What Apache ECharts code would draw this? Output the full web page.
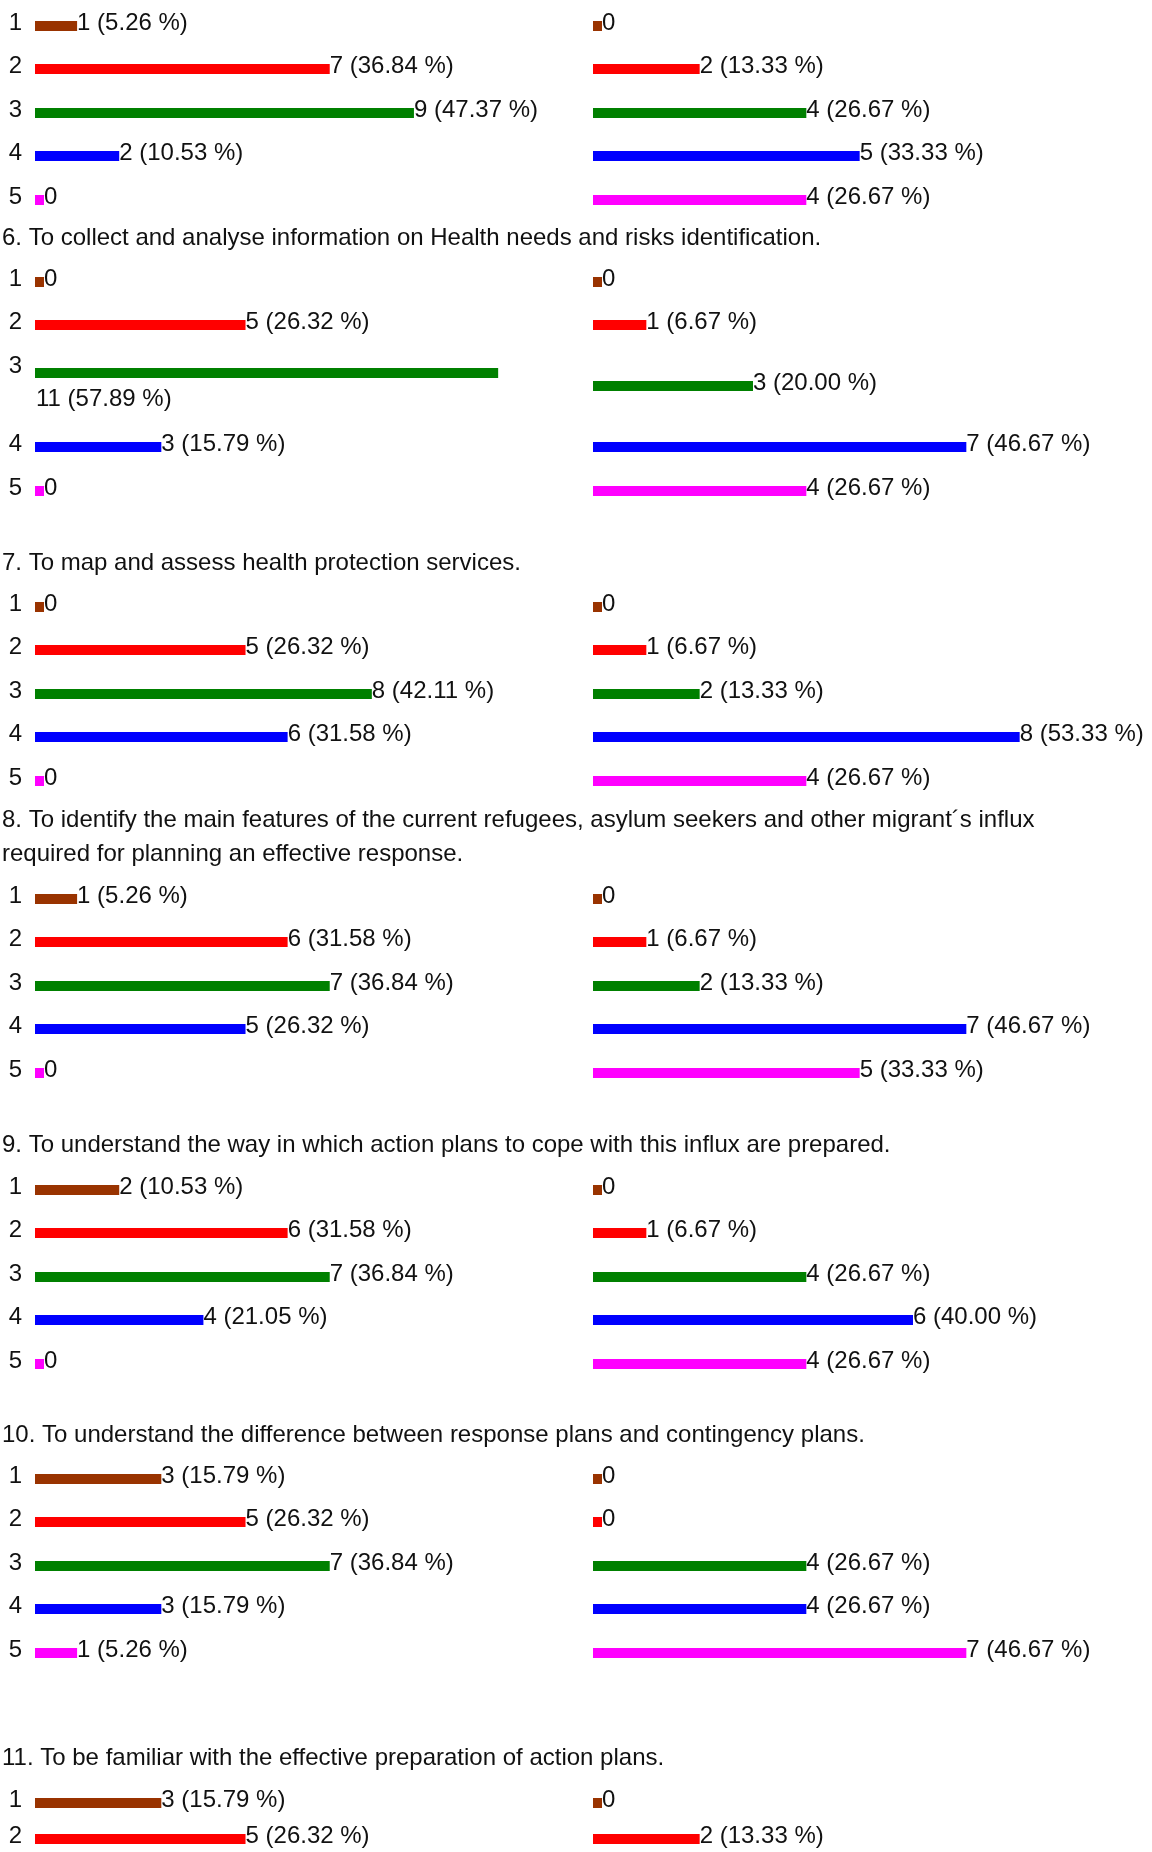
<!DOCTYPE html>
<html lang="en">
<head>
<meta charset="UTF-8">
<title>survey answers by question</title>
<script src="https://cdn.jsdelivr.net/npm/echarts@6/dist/echarts.min.js"></script>
<style>
    body { margin: 0; background: #fff; }
    #main { width: 1152px; height: 1852px; }
</style>
</head>
<body>
<div id="main"></div>
<script>
    // answer levels and their colours
    var levels = ['1', '2', '3', '4', '5'];
    var levelColors = ['#993300', '#ff0000', '#008000', '#0000ff', '#ff00ff'];

    // respondents in each group
    var leftTotal = 19;
    var rightTotal = 15;

    // counts per question (left group / right group)
    var q5Left = [1, 7, 9, 2, 0];
    var q5Right = [0, 2, 4, 5, 4];
    var q6Left = [0, 5, 11, 3, 0];
    var q6Right = [0, 1, 3, 7, 4];
    var q7Left = [0, 5, 8, 6, 0];
    var q7Right = [0, 1, 2, 8, 4];
    var q8Left = [1, 6, 7, 5, 0];
    var q8Right = [0, 1, 2, 7, 5];
    var q9Left = [2, 6, 7, 4, 0];
    var q9Right = [0, 1, 4, 6, 4];
    var q10Left = [3, 5, 7, 3, 1];
    var q10Right = [0, 0, 4, 4, 7];
    var q11Left = [3, 5];
    var q11Right = [0, 2];

    var questionTitles = [
        '',
        '6. To collect and analyse information on Health needs and risks identification.',
        '7. To map and assess health protection services.',
        '8. To identify the main features of the current refugees, asylum seekers and other migrant\u00b4s influx\nrequired for planning an effective response.',
        '9. To understand the way in which action plans to cope with this influx are prepared.',
        '10. To understand the difference between response plans and contingency plans.',
        '11. To be familiar with the effective preparation of action plans.'
    ];

    var FONT = '"Liberation Sans", Arial, sans-serif';
    var TEXT = '#111';

    // layout: header centre y and first bar centre y of each block
    var headerY = [null, 238, 563, 837, 1145, 1435, 1758];
    var firstBarY = [26, 282, 607, 899, 1190, 1479, 1803];
    var ROW = 43.4;
    var LEFT_X = 35, RIGHT_X = 593;
    var GRID_W = 520, AXIS_MAX = 65;   // 8 px per percent

    var blocks = [
        [q5Left, q5Right], [q6Left, q6Right], [q7Left, q7Right], [q8Left, q8Right],
        [q9Left, q9Right], [q10Left, q10Right], [q11Left, q11Right]
    ];

    var option = {
        animation: false,
        backgroundColor: '#fff',
        grid: [], xAxis: [], yAxis: [], series: [], graphic: []
    };

    function addRow(values, total, r, x, barY, showName, nameShift, labelBelow) {
        var i = option.grid.length;
        barY = Math.round(barY);
        option.grid.push({ left: x, top: barY - 20, width: GRID_W, height: 40 });
        option.xAxis.push({ type: 'value', gridIndex: i, min: 0, max: AXIS_MAX, show: false });
        option.yAxis.push({
            type: 'category', gridIndex: i, data: [levels[r]],
            axisLine: { show: false }, axisTick: { show: false }, splitLine: { show: false },
            axisLabel: {
                show: showName, margin: 13, color: TEXT, fontSize: 24, fontFamily: FONT,
                verticalAlign: 'bottom', lineHeight: nameShift * 2
            }
        });
        var label = {
            show: true, color: TEXT, fontSize: 24, fontFamily: FONT,
            formatter: function (p) {
                var c = p.data.count;
                return c === 0 ? '0' : c + ' (' + (c / total * 100).toFixed(2) + ' %)';
            }
        };
        if (labelBelow) {
            label.position = [0, '100%'];
            label.align = 'left';
            label.verticalAlign = 'top';
            label.offset = [1, 9];
        } else {
            label.position = 'right';
            label.distance = 0;
            label.offset = [0, -3];
        }
        option.series.push({
            type: 'bar', xAxisIndex: i, yAxisIndex: i,
            barWidth: 10, barMinHeight: 9,
            itemStyle: { color: levelColors[r] },
            data: [{ value: values[r] / total * 100, count: values[r] }],
            label: label
        });
    }

    blocks.forEach(function (b, k) {
        if (questionTitles[k]) {
            option.graphic.push({
                type: 'text', silent: true,
                style: {
                    x: 2, y: headerY[k], text: questionTitles[k], fill: TEXT,
                    font: '24px ' + FONT, lineHeight: 34, verticalAlign: 'middle'
                }
            });
        }
        for (var r = 0; r < b[0].length; r++) {
            var y = firstBarY[k] + r * ROW;
            var yLeft = y, yRight = y, shift = 3, below = false;
            if (k === 1) {
                // question 6: third row is taller, left label wraps below the bar
                if (r === 2) {
                    yLeft = y + 4; yRight = y + 17; shift = 7; below = true;
                } else if (r > 2) {
                    yLeft = yRight = y + 35;
                }
            }
            addRow(b[0], leftTotal, r, LEFT_X, yLeft, true, shift, below);
            addRow(b[1], rightTotal, r, RIGHT_X, yRight, false, shift, false);
        }
    });

    var myChart = echarts.init(document.getElementById('main'));
    myChart.setOption(option);
</script>
</body>
</html>
